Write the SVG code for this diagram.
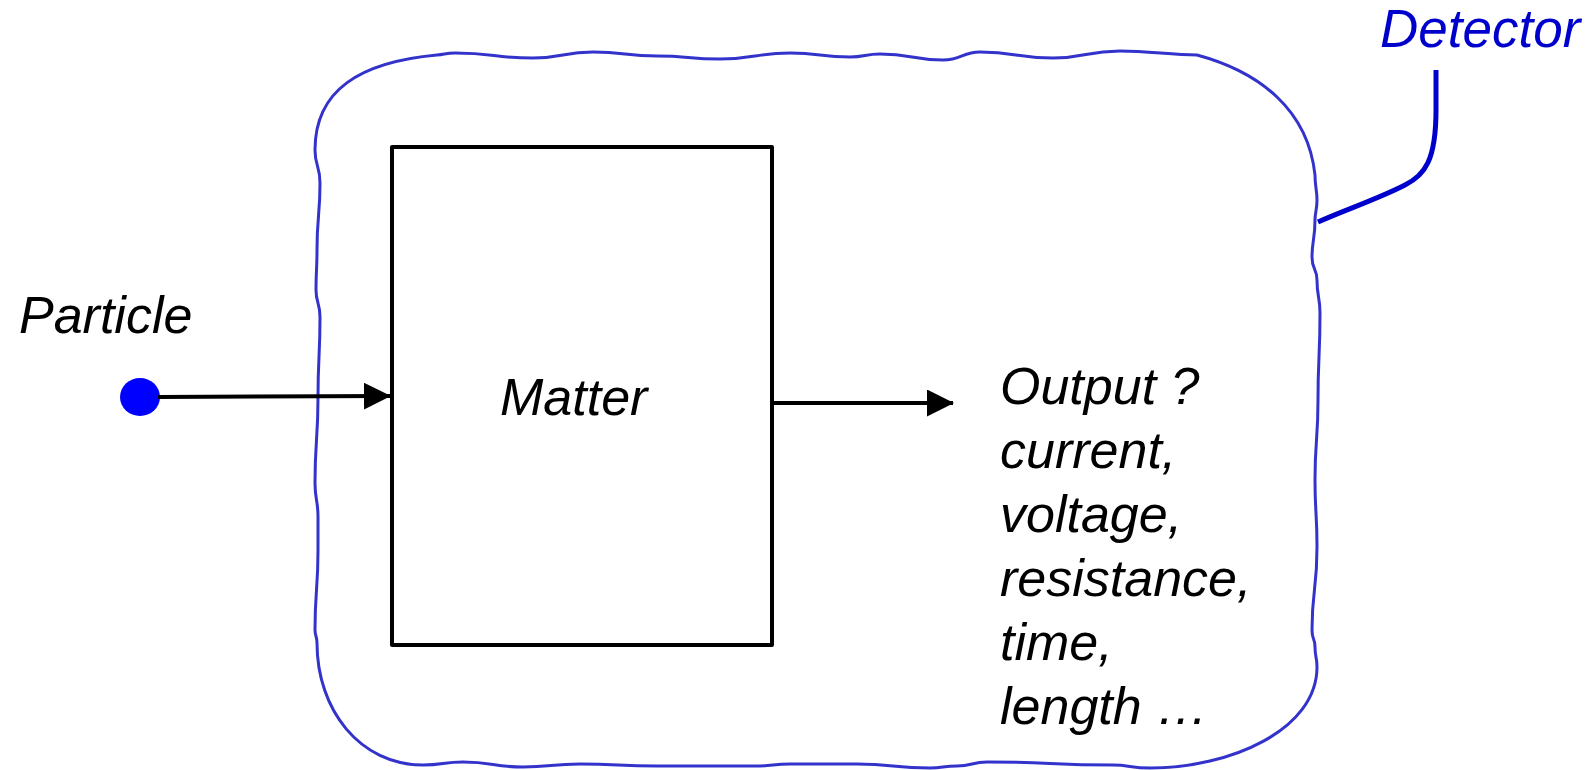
<svg xmlns="http://www.w3.org/2000/svg" width="1594" height="770" viewBox="0 0 1594 770">
<style>
.lbl{font-family:"Liberation Sans",Arial,sans-serif;font-style:italic;font-size:52px;fill:#000}
.blue{fill:#0000CC;font-size:53px}
.conn{stroke:#000;stroke-width:4;fill:none}
</style>
<defs>
<marker id="arrow" markerUnits="userSpaceOnUse" markerWidth="27" markerHeight="27" viewBox="0 0 27 27" refX="26" refY="13.5" orient="auto">
<path d="M0,0 L27,13.5 L0,27 z" fill="#000"/>
</marker>
</defs>
<rect width="1594" height="770" fill="#fff"/>
<g id="detector">
<path fill="none" stroke="#3333CC" stroke-width="3" d="M437,55 C446,54 446,53 455,53 C494,53 494,58 533,58 C563,58 563,52 593,52 C625,52 625,56 657,56 C688,56 688,59 720,59 C755,59 755,53 790,53 C820,53 820,57 850,57 C865,57 865,54 880,54 C912,54 912,60 943,60 C962,60 962,52 980,52 C1016,52 1016,58 1053,58 C1086,58 1086,51 1120,51 C1150,51 1170,55 1197,55 C1260,72 1308,110 1315,175 C1315,187 1317,190 1317,200 C1317,210 1315,212 1315,220 C1315,240 1312,240 1312,257 C1312,270 1317,268 1317,280 C1317,297 1320,297 1320,313 C1320,357 1318,357 1318,400 C1318,440 1315,440 1315,480 C1315,513 1317,513 1317,547 C1317,590 1312,590 1312,630 C1312,640 1315,638 1315,647 C1315,657 1317,657 1317,667 C1317,730 1230,768 1150,768 C1130,768 1130,765 1113,765 C1050,765 1050,762 987,762 C972,762 972,766 957,766 C943,766 943,768 930,768 C893,768 893,764 857,764 C823,764 823,764 790,764 C773,764 773,766 757,766 C707,766 707,766 657,766 C618,766 618,764 580,764 C551,764 551,767 523,767 C493,767 493,762 463,762 C443,762 443,765 423,765 C360,765 317,710 317,643 C317,636 315,636 315,630 C315,590 318,590 318,550 C318,533 318,533 318,517 C318,500 315,500 315,483 C315,440 318,440 318,397 C318,357 320,357 320,317 C320,303 316,303 316,290 C316,270 317,270 317,250 C317,216 320,216 320,183 C320,166 315,166 315,150 C315,90 360,62 437,55 Z"/>
<text class="lbl blue" x="1380" y="47">Detector</text>
</g>
<g id="matter">
<rect x="392" y="147" width="380" height="498" fill="none" stroke="#000" stroke-width="4" stroke-linejoin="round"/>
<text class="lbl" x="500" y="415">Matter</text>
</g>
<g id="particle">
<ellipse cx="140" cy="397" rx="20" ry="19" fill="#0000FF"/>
<text class="lbl" x="19" y="333">Particle</text>
</g>
<g id="output">
<text class="lbl" x="1000" y="404">Output ?</text>
<text class="lbl" x="1000" y="468">current,</text>
<text class="lbl" x="1000" y="532">voltage,</text>
<text class="lbl" x="1000" y="596">resistance,</text>
<text class="lbl" x="1000" y="660">time,</text>
<text class="lbl" x="1000" y="724">length …</text>
</g>
<g id="connectors">
<path class="conn" d="M158,397 L390,396" marker-end="url(#arrow)"/>
<path class="conn" d="M772,403 L953,403" marker-end="url(#arrow)"/>
<path d="M1436,70 L1436,110 C1436,160 1425,175 1405,185 C1380,198 1345,210 1318,222" fill="none" stroke="#0000CC" stroke-width="5"/>
</g>
</svg>
